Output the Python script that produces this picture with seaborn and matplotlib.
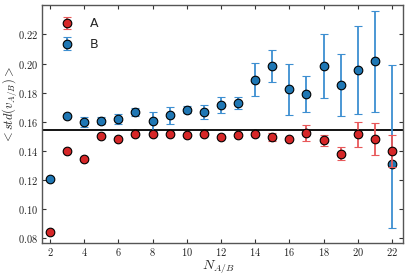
import numpy as np
import matplotlib
matplotlib.use("Agg")
import matplotlib.pyplot as plt
import seaborn as sns

n = np.arange(2, 23)

# A (red)
a_mean = [0.0839, 0.1397, 0.1340, 0.1500, 0.1482, 0.1518, 0.1514, 0.1514, 0.1507, 0.1518,
          0.1498, 0.1507, 0.1518, 0.1495, 0.1479, 0.1523, 0.1471, 0.1381, 0.1512, 0.1482, 0.1397]
a_err = [0.0, 0.0, 0.0, 0.0, 0.0, 0.0, 0.0, 0.0, 0.0, 0.0,
         0.0005, 0.0005, 0.0010, 0.0027, 0.0005, 0.0053, 0.0039, 0.0043, 0.0083, 0.0108, 0.0111]

# B (blue)
b_mean = [0.1205, 0.1639, 0.1598, 0.1608, 0.1617, 0.1667, 0.1605, 0.1644, 0.1683, 0.1667,
          0.1717, 0.1728, 0.1890, 0.1983, 0.1823, 0.1790, 0.1983, 0.1852, 0.1955, 0.2017, 0.1308]
b_err_lo = [0.0, 0.0, 0.0035, 0.0023, 0.0034, 0.0030, 0.0069, 0.0057, 0.0025, 0.0048,
            0.0055, 0.0042, 0.0116, 0.0109, 0.0175, 0.0126, 0.0220, 0.0215, 0.0300, 0.0347, 0.0438]
b_err_hi = [0.0, 0.0, 0.0035, 0.0023, 0.0034, 0.0030, 0.0062, 0.0057, 0.0025, 0.0048,
            0.0055, 0.0042, 0.0116, 0.0109, 0.0175, 0.0126, 0.0220, 0.0215, 0.0300, 0.0347, 0.0679]

ref_line = 0.1541

sns.set_style("ticks")
plt.rcParams["mathtext.fontset"] = "cm"
plt.rcParams["xtick.direction"] = "in"
plt.rcParams["ytick.direction"] = "in"
plt.rcParams["xtick.top"] = True
plt.rcParams["ytick.right"] = True

fig = plt.figure(figsize=(4.07, 2.77), dpi=100)
ax = fig.add_axes([0.103, 0.123, 0.887, 0.859])

ax.errorbar(n, a_mean, yerr=a_err, fmt="o", color="#d62728", ecolor="#e8585a",
            markeredgecolor="black", markeredgewidth=0.8, markersize=6.2,
            elinewidth=1.3, capsize=3, capthick=1.3, label="A", zorder=3)
ax.errorbar(n, b_mean, yerr=[b_err_lo, b_err_hi], fmt="o", color="#1f77b4", ecolor="#3d8fd1",
            markeredgecolor="black", markeredgewidth=0.8, markersize=6.2,
            elinewidth=1.3, capsize=3, capthick=1.3, label="B", zorder=2)
ax.axhline(ref_line, color="black", lw=1.3, zorder=1)

ax.set_xlim(1.53, 22.64)
ax.set_ylim(0.0766, 0.2403)
ax.set_xticks(range(2, 23, 2))
ax.set_xticklabels([f"${v}$" for v in range(2, 23, 2)])
yt = [0.08, 0.10, 0.12, 0.14, 0.16, 0.18, 0.20, 0.22]
ax.set_yticks(yt)
ax.set_yticklabels([f"${v:.2f}$" for v in yt])
ax.tick_params(labelsize=7.5, length=3, width=0.8, pad=3, colors="#333333", labelcolor="#222222")
ax.tick_params(axis="x", pad=2)
for s in ax.spines.values():
    s.set_color("#555555")
    s.set_linewidth(1.0)

ax.set_xlabel(r"$N_{A/B}$", fontsize=10)
ax.xaxis.set_label_coords(0.49, -0.065)
ax.set_ylabel(r"$<std(v_{A/B})>$", fontsize=9)
ax.yaxis.set_label_coords(-0.062, 0.58)
ax.legend(loc="upper left", frameon=False, fontsize=9, handletextpad=0.8,
          borderaxespad=0.6, labelspacing=0.6)

fig.savefig("out.png", dpi=100)
